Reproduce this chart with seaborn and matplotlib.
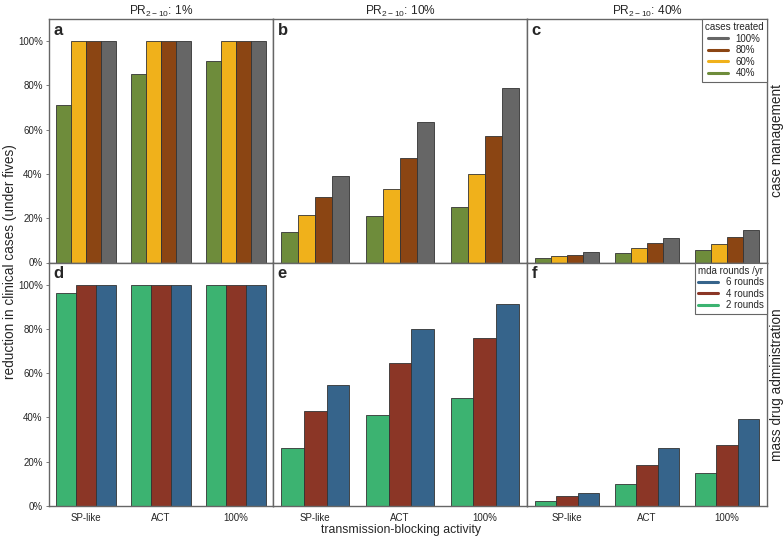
import numpy as np
import pandas as pd
import matplotlib
matplotlib.use("Agg")
import matplotlib.pyplot as plt
from matplotlib.lines import Line2D
from matplotlib.ticker import PercentFormatter
import seaborn as sns

sns.set_style("white")
plt.rcParams['font.family'] = ['Liberation Sans', 'DejaVu Sans']

# data
activity = ["SP-like", "ACT", "100%"]
prevalence = ["1%", "10%", "40%"]

cm_levels = ["40%", "60%", "80%", "100%"]
cm_colors = ["#6e8c3b", "#f0b11b", "#8b4513", "#666666"]
# case management: [prevalence][activity][coverage]
cm_1 = [[71, 100, 100, 100], [85, 100, 100, 100], [91, 100, 100, 100]]
cm_10 = [[13.7, 21.4, 29.7, 39.0], [21.1, 33.3, 47.1, 63.6], [25.2, 40.1, 57.2, 78.9]]
cm_40 = [[2.1, 3.0, 3.6, 4.7], [4.2, 6.6, 8.7, 11.0], [5.6, 8.4, 11.4, 14.9]]

mda_levels = ["2 rounds", "4 rounds", "6 rounds"]
mda_colors = ["#3cb371", "#8b3626", "#36648b"]
mda_1 = [[96.1, 100, 100], [100, 100, 100], [100, 100, 100]]
mda_10 = [[26.3, 42.9, 54.7], [41.0, 64.7, 79.8], [48.7, 75.7, 91.3]]
mda_40 = [[2.4, 4.5, 6.0], [10.1, 18.7, 26.0], [14.7, 27.6, 39.1]]


def to_frame(vals, levels):
    rows = []
    for i, act in enumerate(activity):
        for j, lev in enumerate(levels):
            rows.append({"activity": act, "level": lev, "value": vals[i][j]})
    return pd.DataFrame(rows)


fig = plt.figure(figsize=(7.84, 5.37), dpi=100)
gs = fig.add_gridspec(2, 3, width_ratios=[224, 254, 240], wspace=0, hspace=0,
                      left=49/784, right=767/784, top=1-19/537, bottom=1-506/537)

panels = [
    (cm_1, cm_levels, cm_colors), (cm_10, cm_levels, cm_colors), (cm_40, cm_levels, cm_colors),
    (mda_1, mda_levels, mda_colors), (mda_10, mda_levels, mda_colors), (mda_40, mda_levels, mda_colors),
]
letters = "abcdef"
edge = "#666666"

axes = []
for k, (vals, levels, colors) in enumerate(panels):
    r, c = divmod(k, 3)
    ax = fig.add_subplot(gs[r, c])
    axes.append(ax)
    df = to_frame(vals, levels)
    sns.barplot(data=df, x="activity", y="value", hue="level", hue_order=levels,
                palette=colors, order=activity, width=0.8, edgecolor="#333333",
                linewidth=0.6, saturation=1, legend=False, ax=ax)
    ax.set_xlim(-0.5, 2.5)
    ax.set_ylim(0, 110)
    ax.set_xlabel("")
    ax.set_ylabel("")
    for s in ax.spines.values():
        s.set_color(edge)
        s.set_linewidth(1.0)
    ax.text(0.018, 0.985, letters[k], transform=ax.transAxes, ha="left", va="top",
            fontsize=12, fontweight="bold")
    ax.set_yticks([0, 20, 40, 60, 80, 100])
    if c == 0:
        ax.yaxis.set_major_formatter(PercentFormatter(decimals=0))
        ax.tick_params(axis="y", length=2.5, width=0.6, color=edge, labelsize=7, pad=2,
                       left=True)
    else:
        ax.tick_params(axis="y", left=False, labelleft=False)
    if r == 1:
        ax.tick_params(axis="x", length=0, labelsize=7, pad=5)
    else:
        ax.tick_params(axis="x", bottom=False, labelbottom=False)
    if r == 0:
        ax.set_title(r"$\mathregular{PR_{2-10}}$: " + prevalence[c], fontsize=8.6, pad=3)

# legends
cm_handles = [Line2D([0], [0], color=col, lw=2.2) for col in cm_colors[::-1]]
leg = axes[2].legend(cm_handles, cm_levels[::-1], title="cases treated", loc="upper right",
                     fontsize=7, title_fontsize=7, borderaxespad=0, fancybox=False,
                     framealpha=1, edgecolor=edge, handlelength=2.0, labelspacing=0.15,
                     handletextpad=0.8, borderpad=0.35)
leg.get_frame().set_linewidth(0.8)
mda_handles = [Line2D([0], [0], color=col, lw=2.2) for col in mda_colors[::-1]]
leg = axes[5].legend(mda_handles, mda_levels[::-1], title="mda rounds /yr", loc="upper right",
                     fontsize=7, title_fontsize=7, borderaxespad=0, fancybox=False,
                     framealpha=1, edgecolor=edge, handlelength=2.0, labelspacing=0.15,
                     handletextpad=0.8, borderpad=0.35)
leg.get_frame().set_linewidth(0.8)

fig.text(10/784, 1-262/537, "reduction in clinical cases (under fives)", rotation=90,
         ha="center", va="center", fontsize=9.8)
fig.text(401/784, 1-530/537, "transmission-blocking activity", ha="center", va="center",
         fontsize=8.8)
fig.text(777/784, 1-141/537, "case management", rotation=90, ha="center", va="center",
         fontsize=9.8)
fig.text(777/784, 1-385/537, "mass drug administration", rotation=90, ha="center",
         va="center", fontsize=9.8)

fig.savefig("out.png", dpi=100)
